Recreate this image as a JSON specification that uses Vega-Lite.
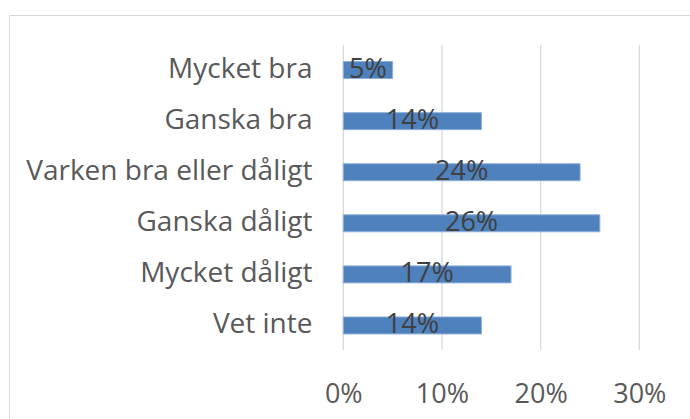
{
  "$schema": "https://vega.github.io/schema/vega-lite/v6.json",
  "width": 700,
  "height": 420,
  "autosize": "none",
  "padding": {"left": 9, "top": 15, "right": -19, "bottom": -16},
  "background": "white",
  "config": {"font": "Open Sans", "view": {"stroke": "#d9d9d9", "strokeWidth": 1}},
  "data": {
    "values": [
      {"category": "Mycket bra", "value": 0.05},
      {"category": "Ganska bra", "value": 0.14},
      {"category": "Varken bra eller dåligt", "value": 0.24},
      {"category": "Ganska dåligt", "value": 0.26},
      {"category": "Mycket dåligt", "value": 0.17},
      {"category": "Vet inte", "value": 0.14}
    ]
  },
  "layer": [
    {
      "data": {"values": [{"g": 0}, {"g": 0.1}, {"g": 0.2}, {"g": 0.3}]},
      "mark": {"type": "rule", "color": "#d9d9d9", "strokeWidth": 1.3},
      "encoding": {
        "x": {"field": "g", "type": "quantitative", "scale": {"domain": [0, 0.3], "range": [334.3, 630.3], "nice": false, "zero": false},
          "axis": {"values": [0, 0.1, 0.2, 0.3], "format": ".0%", "grid": false, "domain": false, "ticks": false, "labelFontSize": 27, "labelColor": "#595959", "labelPadding": 0, "labelBaseline": "alphabetic", "labelFlush": false, "offset": -33, "title": null}},
        "y": {"datum": 0, "type": "quantitative", "scale": {"domain": [0, 1], "range": [30, 335]}, "axis": null},
        "y2": {"datum": 1}
      }
    },
    {
      "mark": {"type": "bar", "size": 17, "fill": "#4f81bd", "stroke": "#8fb0da", "strokeWidth": 1},
      "encoding": {
        "x": {"field": "value", "type": "quantitative", "scale": {"domain": [0, 0.3], "range": [334.3, 630.3], "nice": false, "zero": false},
          "axis": {"values": [0, 0.1, 0.2, 0.3], "format": ".0%", "grid": false, "domain": false, "ticks": false, "labelFontSize": 27, "labelColor": "#595959", "labelPadding": 0, "labelBaseline": "alphabetic", "labelFlush": false, "offset": -33, "title": null}},
        "y": {"field": "category", "type": "nominal", "sort": ["Mycket bra", "Ganska bra", "Varken bra eller dåligt", "Ganska dåligt", "Mycket dåligt", "Vet inte"],
          "scale": {"range": [29.5, 336], "paddingInner": 0, "paddingOuter": 0},
          "axis": {"domain": false, "ticks": false, "labelFontSize": 28, "labelColor": "#595959", "labelPadding": 0, "offset": -303, "title": null, "labelLimit": 0}}
      }
    },
    {
      "transform": [{"calculate": "datum.value / 2", "as": "mid"}],
      "mark": {"type": "text", "fontSize": 27, "color": "#404040", "align": "center", "baseline": "middle"},
      "encoding": {
        "x": {"field": "mid", "type": "quantitative", "scale": {"domain": [0, 0.3], "range": [334.3, 630.3], "nice": false, "zero": false},
          "axis": {"values": [0, 0.1, 0.2, 0.3], "format": ".0%", "grid": false, "domain": false, "ticks": false, "labelFontSize": 27, "labelColor": "#595959", "labelPadding": 0, "labelBaseline": "alphabetic", "labelFlush": false, "offset": -33, "title": null}},
        "y": {"field": "category", "type": "nominal", "sort": ["Mycket bra", "Ganska bra", "Varken bra eller dåligt", "Ganska dåligt", "Mycket dåligt", "Vet inte"],
          "scale": {"range": [29.5, 336], "paddingInner": 0, "paddingOuter": 0}, "axis": null},
        "text": {"field": "value", "type": "quantitative", "format": ".0%"}
      }
    }
  ],
  "resolve": {"scale": {"y": "independent"}}
}
